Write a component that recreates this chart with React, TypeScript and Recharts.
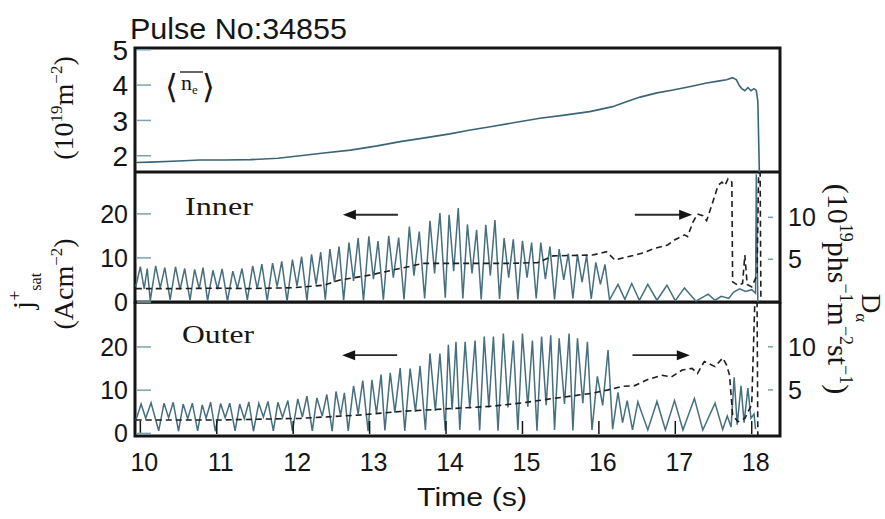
import React from "react";
import { LineChart, Line, XAxis, YAxis, ReferenceArea, ReferenceLine } from "recharts";

type Pt = [number, number];

const timeTicks = [10, 11, 12, 13, 14, 15, 16, 17, 18];
const timeDomain: [number, number] = [9.93, 18.37];
const densityTicks = [2, 3, 4, 5];
const jsatTicks = [0, 10, 20];
const dalphaTicks = [5, 10];

// line-averaged density, 10^19 m^-2
const density: Pt[] = [
  [9.94, 1.81], [10.13, 1.82], [10.5, 1.85], [10.78, 1.88], [11.1, 1.88], [11.44, 1.89],
  [11.8, 1.93], [12.09, 2.0], [12.4, 2.08], [12.75, 2.16], [13.1, 2.28], [13.4, 2.4],
  [13.7, 2.5], [14.05, 2.62], [14.3, 2.72], [14.58, 2.82], [14.9, 2.94], [15.23, 3.06],
  [15.55, 3.15], [15.88, 3.25], [16.18, 3.39], [16.35, 3.52], [16.54, 3.66], [16.76, 3.78],
  [16.97, 3.86], [17.2, 3.96], [17.41, 4.06], [17.58, 4.12], [17.67, 4.15], [17.75, 4.21],
  [17.8, 4.15], [17.84, 3.98], [17.87, 3.9], [17.91, 3.84], [17.95, 3.93], [17.99, 3.84],
  [18.03, 3.9], [18.06, 3.85], [18.08, 3.54], [18.1, 1.54],
];

// inner divertor j_sat, A cm^-2
const innerJsat: Pt[] = [
  [9.94, 3.5], [10.0, 8.0], [10.05, 3.0], [10.09, 7.6], [10.13, 0.3],
  [10.2, 8.2], [10.26, 3.2], [10.32, 7.8], [10.39, 0.5],
  [10.46, 8.0], [10.52, 2.8], [10.58, 7.6], [10.65, 0.4],
  [10.71, 7.4], [10.77, 3.0], [10.82, 7.8], [10.88, 0.3],
  [10.95, 7.2], [11.01, 2.9], [11.07, 7.5], [11.14, 0.2],
  [11.21, 7.0], [11.27, 3.1], [11.33, 7.6], [11.4, 0.5],
  [11.47, 8.2], [11.53, 3.0], [11.59, 8.6], [11.66, 0.3],
  [11.73, 8.8], [11.79, 3.5], [11.85, 9.2], [11.92, 0.2],
  [11.99, 9.6], [12.05, 3.6], [12.11, 10.3], [12.18, 0.3],
  [12.24, 10.8], [12.3, 4.0], [12.36, 11.3], [12.42, 0.5],
  [12.48, 12.0], [12.54, 4.5], [12.6, 12.6], [12.66, 0.4],
  [12.73, 13.5], [12.79, 4.8], [12.85, 14.5], [12.92, 0.3],
  [12.99, 14.9], [13.05, 5.2], [13.11, 13.8], [13.18, 0.5],
  [13.25, 15.0], [13.31, 5.5], [13.38, 14.6], [13.45, 0.6],
  [13.52, 17.1], [13.58, 6.0], [13.65, 16.0], [13.72, 0.8],
  [13.79, 18.4], [13.85, 6.5], [13.92, 20.2], [13.99, 1.0],
  [14.04, 19.8], [14.1, 7.0], [14.16, 21.3], [14.22, 0.8],
  [14.28, 17.6], [14.34, 6.5], [14.4, 16.4], [14.46, 0.6],
  [14.52, 17.5], [14.58, 6.0], [14.64, 18.6], [14.7, 0.7],
  [14.76, 14.5], [14.82, 5.5], [14.88, 14.2], [14.94, 0.6],
  [15.0, 13.9], [15.06, 5.5], [15.12, 13.5], [15.18, 0.8],
  [15.24, 13.5], [15.3, 5.2], [15.36, 12.6], [15.42, 0.6],
  [15.48, 12.0], [15.54, 5.0], [15.6, 11.0], [15.66, 0.8],
  [15.72, 10.8], [15.78, 4.5], [15.84, 10.6], [15.9, 0.7],
  [15.96, 9.0], [16.02, 4.0], [16.08, 8.5], [16.14, 0.5],
  [16.25, 4.0], [16.34, 0.6], [16.43, 4.2], [16.53, 0.4], [16.64, 4.0], [16.76, 0.4],
  [16.89, 3.8], [17.0, 0.3], [17.12, 3.2], [17.27, 0.2], [17.43, 1.8], [17.52, 0.4],
  [17.6, 1.3], [17.7, 0.8], [17.76, 2.2], [17.84, 3.0], [17.92, 2.4], [18.0, 2.8],
  [18.05, 2.0], [18.06, 29.0], [18.08, 0.0],
];

// inner D-alpha, 10^19 ph s^-1 m^-2 sr^-1
const innerDalpha: Pt[] = [
  [9.94, 1.5], [10.5, 1.5], [11.0, 1.55], [11.4, 1.5], [12.0, 1.6], [12.4, 1.9],
  [12.6, 2.5], [13.0, 3.1], [13.3, 3.7], [13.7, 4.5], [14.25, 4.5], [14.8, 4.5],
  [15.2, 4.6], [15.4, 5.4], [15.92, 5.5], [16.1, 5.9], [16.21, 4.9], [16.38, 5.3],
  [16.56, 5.7], [16.73, 6.3], [16.9, 6.7], [16.99, 7.3], [17.12, 7.9], [17.16, 7.7],
  [17.23, 9.4], [17.29, 10.4], [17.36, 10.2], [17.41, 9.6], [17.49, 11.8], [17.56, 13.8],
  [17.61, 14.2], [17.65, 13.8], [17.69, 14.6], [17.74, 14.2], [17.75, 2.3], [17.82, 1.9],
  [17.88, 2.1], [17.91, 5.5], [17.94, 2.0], [18.0, 1.7], [18.07, 3.1], [18.09, 15.3],
  [18.11, 15.3], [18.12, -0.1],
];

// outer divertor j_sat, A cm^-2
const outerJsat: Pt[] = [
  [9.94, 3.0], [10.01, 6.8], [10.07, 3.5], [10.14, 7.1], [10.24, 0.6],
  [10.31, 7.0], [10.37, 3.6], [10.43, 7.2], [10.5, 0.5],
  [10.56, 6.8], [10.62, 3.4], [10.68, 7.0], [10.75, 0.6],
  [10.81, 6.6], [10.86, 3.5], [10.92, 7.2], [10.98, 0.5],
  [11.05, 6.9], [11.11, 3.6], [11.17, 7.0], [11.24, 0.6],
  [11.3, 6.8], [11.36, 3.4], [11.42, 7.3], [11.48, 0.5],
  [11.55, 7.0], [11.61, 3.8], [11.67, 7.4], [11.74, 0.6],
  [11.8, 7.2], [11.86, 3.7], [11.93, 7.6], [11.99, 0.5],
  [12.06, 8.0], [12.12, 3.8], [12.18, 8.6], [12.25, 0.6],
  [12.31, 8.2], [12.38, 4.0], [12.44, 9.0], [12.51, 0.5],
  [12.56, 9.7], [12.62, 4.2], [12.67, 9.4], [12.72, 0.6],
  [12.79, 11.0], [12.85, 4.5], [12.91, 12.2], [12.98, 0.5],
  [13.03, 12.4], [13.09, 4.6], [13.15, 13.6], [13.2, 0.7],
  [13.27, 14.0], [13.33, 4.8], [13.4, 15.1], [13.46, 0.6],
  [13.53, 15.0], [13.6, 5.0], [13.66, 15.6], [13.73, 0.8],
  [13.79, 18.5], [13.86, 5.2], [13.92, 18.5], [13.99, 0.6],
  [14.03, 20.5], [14.08, 5.5], [14.13, 21.2], [14.18, 0.8],
  [14.25, 21.2], [14.31, 5.8], [14.38, 21.5], [14.44, 0.7],
  [14.5, 22.4], [14.56, 6.0], [14.62, 22.4], [14.68, 0.6],
  [14.75, 23.1], [14.81, 6.0], [14.88, 21.5], [14.94, 0.8],
  [15.0, 23.1], [15.07, 6.2], [15.13, 21.5], [15.19, 0.6],
  [15.25, 22.4], [15.31, 6.5], [15.37, 22.7], [15.42, 0.8],
  [15.48, 22.0], [15.55, 6.8], [15.61, 23.1], [15.66, 0.7],
  [15.72, 22.0], [15.79, 7.0], [15.85, 21.2], [15.91, 0.8],
  [15.98, 13.2], [16.05, 6.5], [16.12, 19.3], [16.18, 1.0],
  [16.25, 9.5], [16.31, 2.5], [16.37, 7.6], [16.44, 0.8],
  [16.51, 7.3], [16.64, 0.8], [16.76, 7.4], [16.87, 0.8], [16.99, 7.6], [17.1, 0.8],
  [17.25, 8.1], [17.36, 0.8], [17.52, 7.0], [17.62, 0.9], [17.68, 4.0], [17.73, 1.5],
  [17.77, 13.0], [17.81, 2.0], [17.86, 11.0], [17.9, 2.5], [17.95, 10.5], [17.99, 3.5],
  [18.03, 4.5], [18.05, 1.0],
];

// outer D-alpha
const outerDalpha: Pt[] = [
  [9.94, 1.5], [11.0, 1.5], [12.1, 1.7], [12.9, 2.1], [13.4, 2.5], [14.2, 2.9],
  [14.6, 3.1], [15.0, 3.5], [15.4, 4.0], [15.9, 4.6], [16.12, 5.0], [16.3, 5.4],
  [16.47, 5.5], [16.64, 6.2], [16.82, 6.7], [16.95, 6.5], [17.09, 7.3], [17.22, 7.5],
  [17.29, 6.9], [17.38, 8.3], [17.52, 7.7], [17.62, 8.7], [17.67, 7.9], [17.71, 6.7],
  [17.75, 2.1], [17.82, 1.3], [17.91, 1.7], [18.0, 3.3], [18.04, 15.1], [18.07, 15.1],
  [18.08, -0.35],
];

// arrows: tail time, head time, level (A cm^-2)
const innerArrows: [number, number, number][] = [[13.37, 12.65, 19.8], [16.47, 17.22, 19.8]];
const outerArrows: [number, number, number][] = [[13.36, 12.64, 18.1], [16.44, 17.19, 18.1]];

const FONT_SANS = "'Liberation Sans', Arial, Helvetica, sans-serif";
const FONT_SERIF = "'Liberation Serif', 'Times New Roman', Times, serif";
const INK = "#151515";
const TRACE = "#466f7f";
const TICK = "#7aa3b0";

const topDomain: [number, number] = [1.54, 5.05];
const midLeft: [number, number] = [0, 29.5];
const midRight: [number, number] = [-0.1, 15.4];
const lowLeft: [number, number] = [-0.6, 30.4];
const lowRight: [number, number] = [-0.35, 15.2];

const rows = (pts: Pt[]) => pts.map(([t, v]) => ({ t, v }));

const leftTick = (fontSize: number) => (p: any) => (
  <g>
    <line x1={p.x + 2} x2={p.x + 16} y1={p.y} y2={p.y} stroke={TICK} strokeWidth={1.5} />
    <text x={p.x - 7} y={p.y} dy="0.36em" textAnchor="end" fontSize={fontSize} fontFamily={FONT_SANS} fill={INK}>
      {p.payload.value}
    </text>
  </g>
);

const rightTick = (p: any) => (
  <g>
    <line x1={p.x - 12} x2={p.x - 7} y1={p.y} y2={p.y} stroke={TICK} strokeWidth={1.5} />
    <text x={p.x + 8} y={p.y} dy="0.36em" textAnchor="start" fontSize={25} fontFamily={FONT_SANS} fill={INK}>
      {p.payload.value}
    </text>
  </g>
);

const timeTick = (p: any) => (
  <g>
    <line x1={p.x} x2={p.x} y1={p.y - 2} y2={p.y - 15} stroke={INK} strokeWidth={1.5} />
    <text x={p.x + 4} y={p.y + 35} textAnchor="middle" fontSize={25} fontFamily={FONT_SANS} fill={INK}>
      {p.payload.value}
    </text>
  </g>
);

function ArrowShape(p: any) {
  const dir = p.x2 > p.x1 ? 1 : -1;
  const hx = p.x2;
  const hy = p.y2;
  return (
    <g>
      <line x1={p.x1} y1={p.y1} x2={hx - dir * 8} y2={hy} stroke="#2a2a2a" strokeWidth={1.8} />
      <polygon points={`${hx},${hy} ${hx - dir * 13},${hy - 5} ${hx - dir * 13},${hy + 5}`} fill={INK} />
    </g>
  );
}

const frame = (yId: string, dom: [number, number]) => (
  <ReferenceArea
    yAxisId={yId}
    x1={timeDomain[0]}
    x2={timeDomain[1]}
    y1={dom[0]}
    y2={dom[1]}
    fill="none"
    fillOpacity={0}
    stroke={INK}
    strokeWidth={3}
    ifOverflow="visible"
  />
);

const arrows = (list: [number, number, number][]) =>
  list.map(([a, b, lvl], i) => (
    <ReferenceLine
      key={i}
      yAxisId="left"
      segment={[{ x: a, y: lvl }, { x: b, y: lvl }]}
      shape={ArrowShape}
      ifOverflow="visible"
    />
  ));

function JsatPanel({
  jsat,
  dalpha,
  left,
  right,
  arrowList,
  height,
  bottom,
  withTime,
}: {
  jsat: Pt[];
  dalpha: Pt[];
  left: [number, number];
  right: [number, number];
  arrowList: [number, number, number][];
  height: number;
  bottom: number;
  withTime: boolean;
}) {
  return (
    <LineChart width={885} height={height} margin={{ top: 0, right: 0, bottom, left: 0 }}>
      <XAxis
        type="number"
        dataKey="t"
        domain={timeDomain}
        allowDataOverflow
        ticks={timeTicks}
        interval={0}
        hide={!withTime}
        height={83}
        axisLine={false}
        tickLine={false}
        tickSize={0}
        tickMargin={0}
        tick={timeTick}
      />
      <YAxis
        yAxisId="left"
        orientation="left"
        width={135}
        domain={left}
        allowDataOverflow
        ticks={jsatTicks}
        interval={0}
        axisLine={false}
        tickLine={false}
        tickSize={0}
        tickMargin={0}
        tick={leftTick(25)}
      />
      <YAxis
        yAxisId="right"
        orientation="right"
        width={105}
        domain={right}
        allowDataOverflow
        ticks={dalphaTicks}
        interval={0}
        axisLine={false}
        tickLine={false}
        tickSize={0}
        tickMargin={0}
        tick={rightTick}
      />
      <Line
        yAxisId="left"
        data={rows(jsat)}
        dataKey="v"
        type="linear"
        stroke={TRACE}
        strokeWidth={1.5}
        dot={false}
        isAnimationActive={false}
      />
      <Line
        yAxisId="right"
        data={rows(dalpha)}
        dataKey="v"
        type="linear"
        stroke="#1e1e1e"
        strokeWidth={1.6}
        strokeDasharray="6 4"
        dot={false}
        isAnimationActive={false}
      />
      {arrows(arrowList)}
      {frame("left", left)}
    </LineChart>
  );
}

const sup = (s: string, up: number, size: number) => (
  <tspan dy={-up} fontSize={size}>{s}</tspan>
);

export default function App() {
  return (
    <div style={{ position: "absolute", left: 0, top: 0, width: 885, height: 519, background: "#fff", overflow: "hidden" }}>
      <div style={{ position: "absolute", left: 0, top: 0 }}>
        <LineChart width={885} height={172} margin={{ top: 48, right: 105, bottom: 0, left: 0 }}>
          <XAxis type="number" dataKey="t" domain={timeDomain} allowDataOverflow hide />
          <YAxis
            yAxisId="left"
            width={135}
            domain={topDomain}
            allowDataOverflow
            ticks={densityTicks}
            interval={0}
            axisLine={false}
            tickLine={false}
            tickSize={0}
            tickMargin={0}
            tick={leftTick(28)}
          />
          <Line
            yAxisId="left"
            data={rows(density)}
            dataKey="v"
            type="linear"
            stroke="#3b6474"
            strokeWidth={1.6}
            dot={false}
            isAnimationActive={false}
          />
          {frame("left", topDomain)}
        </LineChart>
      </div>
      <div style={{ position: "absolute", left: 0, top: 302 }}>
        <JsatPanel jsat={outerJsat} dalpha={outerDalpha} left={lowLeft} right={lowRight} arrowList={outerArrows} height={217} bottom={0} withTime />
      </div>
      <div style={{ position: "absolute", left: 0, top: 172 }}>
        <JsatPanel jsat={innerJsat} dalpha={innerDalpha} left={midLeft} right={midRight} arrowList={innerArrows} height={148} bottom={18} withTime={false} />
      </div>

      <svg width={885} height={519} style={{ position: "absolute", left: 0, top: 0, pointerEvents: "none" }}>
        <text x={130} y={39} fontFamily={FONT_SANS} fontSize={29} fill={INK} textLength={217} lengthAdjust="spacingAndGlyphs">
          Pulse No:34855
        </text>

        {/* <n_e> legend */}
        <text x={165} y={98} fontFamily="'DejaVu Serif', serif" fontSize={33} fill={INK}>⟨</text>
        <text x={181} y={90} fontFamily={FONT_SERIF} fontSize={22} fill={INK}>
          n<tspan dy={4} fontSize={13}>e</tspan>
        </text>
        <line x1={180} x2={203} y1={72} y2={72} stroke={INK} strokeWidth={1.3} />
        <text x={202} y={98} fontFamily="'DejaVu Serif', serif" fontSize={33} fill={INK}>⟩</text>

        <text x={185} y={215} fontFamily={FONT_SERIF} fontSize={26} fill={INK} textLength={68} lengthAdjust="spacingAndGlyphs">
          Inner
        </text>
        <text x={182} y={343} fontFamily={FONT_SERIF} fontSize={26} fill={INK} textLength={72} lengthAdjust="spacingAndGlyphs">
          Outer
        </text>

        <text x={472} y={506} textAnchor="middle" fontFamily={FONT_SANS} fontSize={25} fill={INK} textLength={110} lengthAdjust="spacingAndGlyphs">
          Time (s)
        </text>

        {/* left axis titles */}
        <text transform="translate(73,108) rotate(-90)" textAnchor="middle" fontFamily={FONT_SERIF} fontSize={28} fill={INK}>
          (10{sup("19", 11, 17)}<tspan dy={11}>m</tspan>{sup("−2", 11, 17)}<tspan dy={11}>)</tspan>
        </text>
        <text transform="translate(33,291) rotate(-90)" textAnchor="middle" fontFamily={FONT_SERIF} fontSize={30} fill={INK}>
          j{sup("+", 12, 18)}<tspan dy={20} fontSize={16}>sat</tspan>
        </text>
        <text transform="translate(73,284) rotate(-90)" textAnchor="middle" fontFamily={FONT_SERIF} fontSize={28} fill={INK}>
          (Acm{sup("−2", 11, 17)}<tspan dy={11}>)</tspan>
        </text>

        {/* right axis titles */}
        <text transform="translate(828,289) rotate(90)" textAnchor="middle" fontFamily={FONT_SERIF} fontSize={30} fill={INK}>
          (10{sup("19", 12, 18)}<tspan dy={12}>phs</tspan>{sup("−1", 12, 18)}
          <tspan dy={12}>m</tspan>{sup("−2", 12, 18)}<tspan dy={12}>st</tspan>{sup("−1", 12, 18)}
          <tspan dy={12}>)</tspan>
        </text>
        <text transform="translate(862,308) rotate(90)" textAnchor="middle" fontFamily={FONT_SERIF} fontSize={27} fill={INK}>
          D<tspan dy={6} fontSize={17}>α</tspan>
        </text>
      </svg>
    </div>
  );
}
